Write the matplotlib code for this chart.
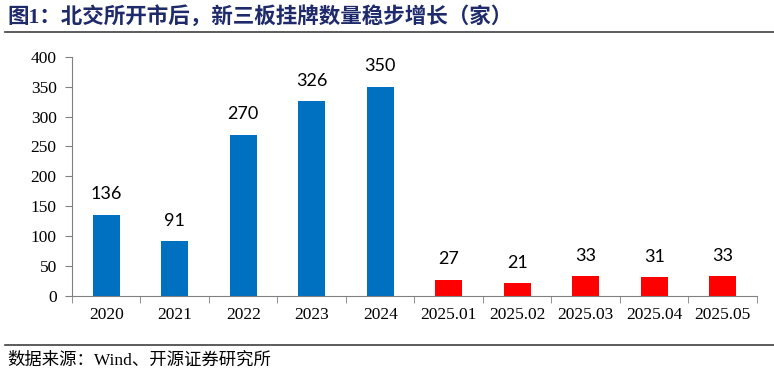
import matplotlib
matplotlib.use("Agg")
import numpy as np
import matplotlib.pyplot as plt
from matplotlib.lines import Line2D


categories = ["2020", "2021", "2022", "2023", "2024",
              "2025.01", "2025.02", "2025.03", "2025.04", "2025.05"]
values = [136, 91, 270, 326, 350, 27, 21, 33, 31, 33]
colors = ["#0070C0"] * 5 + ["#FF0000"] * 5

title = "图1：北交所开市后，新三板挂牌数量稳步增长（家）"
source = "数据来源：Wind、开源证券研究所"

cjk_serif = ["Liberation Serif", "Noto Sans CJK SC", "DejaVu Sans"]
serif = ["Liberation Serif", "DejaVu Serif"]

fig = plt.figure(figsize=(7.74, 3.74), dpi=100)
ax = fig.add_axes([0.093, 0.209, 0.885, 0.639])

x = np.arange(len(categories))
bars = ax.bar(x, values, width=0.4, color=colors)

for xi, v in zip(x, values):
    ax.annotate(str(v), (xi, v), xytext=(0, 9), textcoords="offset points",
                ha="center", va="bottom", fontsize=13, family=["Lato", "DejaVu Sans"])

ax.set_xlim(-0.5, len(categories) - 0.5)
ax.set_ylim(0, 400)
ax.set_yticks(np.arange(0, 401, 50))
ax.set_xticks(x)
ax.set_xticklabels(categories)
ax.set_xticks(np.arange(-0.5, len(categories), 1), minor=True)

for lab in ax.get_xticklabels() + ax.get_yticklabels():
    lab.set_family(serif)
    lab.set_fontsize(12.5)

ax.tick_params(axis="x", which="major", length=0, pad=8)
ax.tick_params(axis="x", which="minor", length=5, direction="out", color="#808080")
ax.tick_params(axis="y", length=5, direction="out", color="#808080", pad=6)

for s in ["top", "right"]:
    ax.spines[s].set_visible(False)
for s in ["left", "bottom"]:
    ax.spines[s].set_color("#808080")

fig.text(0.010, 0.955, title, family=cjk_serif, fontsize=15.5, fontweight="bold",
         color="#1F2A6B", va="center", ha="left")
fig.add_artist(Line2D([0.006, 1.0], [0.915, 0.915], color="#404040", lw=1.2,
                      transform=fig.transFigure))
fig.add_artist(Line2D([0.006, 1.0], [0.078, 0.078], color="#404040", lw=1.2,
                      transform=fig.transFigure))
fig.text(0.010, 0.037, source, family=cjk_serif, fontsize=12.5, color="#000000",
         va="center", ha="left")

fig.savefig("out.png", dpi=100)
